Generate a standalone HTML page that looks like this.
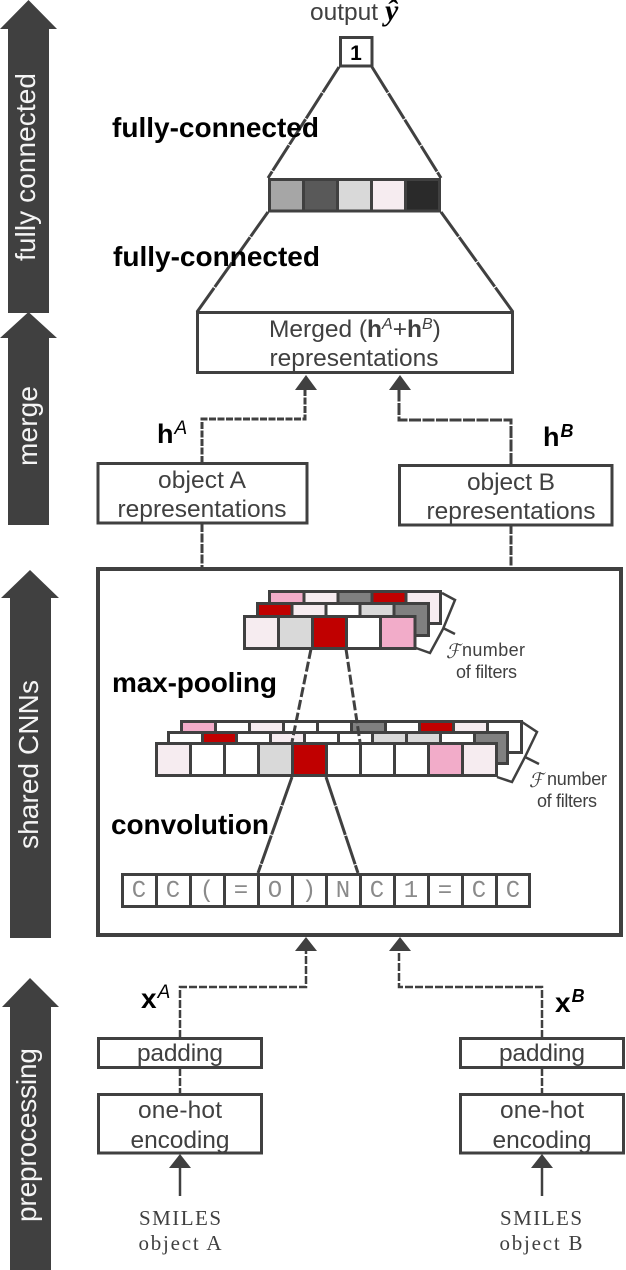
<!DOCTYPE html>
<html><head><meta charset="utf-8">
<style>
html,body{margin:0;padding:0;background:#fff;width:626px;height:1270px;overflow:hidden}
svg{display:block}
text{font-family:"Liberation Sans",sans-serif;fill:#404040}
.b{font-weight:bold;fill:#000}
.s{fill:#f4f4f4;font-size:28px}
.t{font-size:24.5px;text-anchor:middle}
.m{font-family:"Liberation Mono",monospace;font-size:24px;text-anchor:middle;fill:#8a8a8a}
.r{font-family:"Liberation Serif",serif;font-size:21px;text-anchor:middle}
.c{stroke:#404040;stroke-width:3;fill:#fff}
.l{stroke:#404040;stroke-width:2.5;fill:none}
.d{stroke:#404040;stroke-width:3;fill:none;stroke-dasharray:9 1.5}
.n{font-size:18px}
</style></head><body>
<svg width="626" height="1270" viewBox="0 0 626 1270" xmlns="http://www.w3.org/2000/svg">
<!-- big side arrows -->
<g fill="#404040">
<polygon points="28.5,0 57,29 49,29 49,313 8,313 8,29 0,29"/>
<polygon points="28.5,312 57,338 49,338 49,525 8,525 8,338 0,338"/>
<polygon points="30,570 59,598 51,598 51,938 10,938 10,598 1,598"/>
<polygon points="30,978 59,1007 51,1007 51,1270 10,1270 10,1007 2,1007"/>
</g>
<text class="s" transform="translate(35,261) rotate(-90)" textLength="188">fully connected</text>
<text class="s" transform="translate(37,466) rotate(-90)" textLength="80">merge</text>
<text class="s" transform="translate(38,849) rotate(-90)" textLength="169">shared CNNs</text>
<text class="s" transform="translate(36,1222) rotate(-90)" textLength="174">preprocessing</text>

<!-- output -->
<text x="310" y="20" font-size="24.5">output</text>
<text x="385" y="20" font-size="30" style="font-family:'Liberation Serif',serif;font-weight:bold;font-style:italic;fill:#000">ŷ</text>
<rect x="340.5" y="37.5" width="31.5" height="28.5" class="c"/>
<text x="356" y="60" class="b" font-size="21" text-anchor="middle">1</text>

<!-- fan lines -->
<g class="d" style="stroke-dasharray:30 1">
<line x1="339" y1="67" x2="268" y2="178"/>
<line x1="372" y1="67" x2="441" y2="178"/>
<line x1="268" y1="212" x2="197" y2="312"/>
<line x1="441" y1="212" x2="513" y2="312"/>
</g>
<text x="112" y="137" class="b" font-size="28" textLength="207">fully-connected</text>
<text x="113" y="266" class="b" font-size="28" textLength="207">fully-connected</text>

<!-- bar -->
<rect x="269.5" y="179.5" width="34" height="31.5" class="c" style="fill:#a6a6a6"/>
<rect x="303.5" y="179.5" width="34" height="31.5" class="c" style="fill:#595959"/>
<rect x="337.5" y="179.5" width="34" height="31.5" class="c" style="fill:#d9d9d9"/>
<rect x="371.5" y="179.5" width="34" height="31.5" class="c" style="fill:#f6ecf0"/>
<rect x="405.5" y="179.5" width="34" height="31.5" class="c" style="fill:#2a2a2a"/>

<!-- merged -->
<rect x="197.5" y="312.5" width="315" height="60" class="c"/>
<text x="269" y="337" font-size="24.5">Merged (<tspan class="b" style="fill:#404040">h</tspan><tspan font-size="16" dy="-8" font-style="italic">A</tspan><tspan dy="8">+</tspan><tspan class="b" style="fill:#404040">h</tspan><tspan font-size="16" dy="-8" font-style="italic">B</tspan><tspan dy="8">)</tspan></text>
<text x="354" y="366" class="t" textLength="169">representations</text>

<!-- connectors h -->
<polyline class="d" points="202,463 202,419 305,419 305,388" style="stroke-dasharray:7 1.5"/>
<polyline class="d" points="511,465 511,420 399,420 399,388" style="stroke-dasharray:12 1.5"/>
<polygon points="306,375 317,390 295,390" fill="#404040"/>
<polygon points="400,375 411,390 389,390" fill="#404040"/>
<text x="157" y="443" class="b" font-size="27">h<tspan font-size="19" dy="-9" font-style="italic" font-weight="normal" dx="1">A</tspan></text>
<text x="543" y="446" class="b" font-size="27">h<tspan font-size="18" dy="-9" font-style="italic" dx="1">B</tspan></text>

<!-- object boxes -->
<rect x="98" y="463.5" width="209" height="59.5" class="c"/>
<text x="202" y="488" class="t" textLength="88">object A</text>
<text x="202" y="517" class="t" textLength="169">representations</text>
<rect x="399.5" y="465.5" width="212.5" height="59.5" class="c"/>
<text x="511" y="490" class="t" textLength="88">object B</text>
<text x="511" y="519" class="t" textLength="169">representations</text>
<line class="d" x1="202" y1="523" x2="202" y2="569"/>
<line class="d" x1="511" y1="525" x2="511" y2="569"/>

<!-- CNN box -->
<rect x="98" y="569" width="523" height="366" fill="#fff" stroke="#404040" stroke-width="4"/>

<!-- upper filter stack -->
<rect x="269.5" y="591.5" width="34.5" height="32" class="c" style="fill:#f2acc9"/>
<rect x="304" y="591.5" width="34" height="32" class="c"  style="fill:#f6ecf0"/>
<rect x="338" y="591.5" width="34" height="32" class="c" style="fill:#808080"/>
<rect x="372" y="591.5" width="34" height="32" class="c" style="fill:#c00000"/>
<rect x="406" y="591.5" width="34.5" height="32" class="c" style="fill:#f6ecf0"/>

<rect x="257.5" y="603.5" width="34.5" height="32" class="c" style="fill:#c00000"/>
<rect x="292" y="603.5" width="34" height="32" class="c" style="fill:#f6ecf0"/>
<rect x="326" y="603.5" width="34" height="32" class="c"/>
<rect x="360" y="603.5" width="34" height="32" class="c" style="fill:#d9d9d9"/>
<rect x="394" y="603.5" width="34.5" height="32" class="c" style="fill:#808080"/>

<rect x="244.5" y="616.5" width="34" height="32" class="c" style="fill:#f6ecf0"/>
<rect x="278.5" y="616.5" width="34" height="32" class="c" style="fill:#d9d9d9"/>
<rect x="312.5" y="616.5" width="34" height="32" class="c" style="fill:#c00000"/>
<rect x="346.5" y="616.5" width="34" height="32" class="c"/>
<rect x="380.5" y="616.5" width="34.5" height="32" class="c" style="fill:#f2acc9"/>

<polyline class="l" points="442,593 455,600 443,629 430,653 416,648"/>
<line class="l" x1="443" y1="628" x2="455" y2="634"/>
<text x="446" y="658" font-size="20" textLength="14" lengthAdjust="spacingAndGlyphs" style="font-family:'DejaVu Serif',serif;font-style:italic">ℱ</text>
<text x="462" y="656" class="n" textLength="63">number</text>
<text x="456" y="678" class="n" textLength="61">of filters</text>
<text x="112" y="692" class="b" font-size="28" textLength="165">max-pooling</text>

<!-- lower filter stack -->
<rect x="181.5" y="721.5" width="34" height="31" class="c" style="fill:#f2acc9"/>
<rect x="215.5" y="721.5" width="34" height="31" class="c"/>
<rect x="249.5" y="721.5" width="34" height="31" class="c" style="fill:#f6ecf0"/>
<rect x="283.5" y="721.5" width="34" height="31" class="c"/>
<rect x="317.5" y="721.5" width="34" height="31" class="c"/>
<rect x="351.5" y="721.5" width="34" height="31" class="c" style="fill:#808080"/>
<rect x="385.5" y="721.5" width="34" height="31" class="c"/>
<rect x="419.5" y="721.5" width="34" height="31" class="c" style="fill:#c00000"/>
<rect x="453.5" y="721.5" width="34" height="31" class="c" style="fill:#f6ecf0"/>
<rect x="487.5" y="721.5" width="34" height="31" class="c"/>

<rect x="168.5" y="732.5" width="34" height="31" class="c"/>
<rect x="202.5" y="732.5" width="34" height="31" class="c" style="fill:#c00000"/>
<rect x="236.5" y="732.5" width="34" height="31" class="c"/>
<rect x="270.5" y="732.5" width="34" height="31" class="c" style="fill:#f6ecf0"/>
<rect x="304.5" y="732.5" width="34" height="31" class="c"/>
<rect x="338.5" y="732.5" width="34" height="31" class="c"/>
<rect x="372.5" y="732.5" width="34" height="31" class="c" style="fill:#d9d9d9"/>
<rect x="406.5" y="732.5" width="34" height="31" class="c" style="fill:#d9d9d9"/>
<rect x="440.5" y="732.5" width="34" height="31" class="c"/>
<rect x="474.5" y="732.5" width="33" height="31" class="c" style="fill:#808080"/>

<g class="d" style="stroke-dasharray:10 3">
<line x1="311" y1="649" x2="292" y2="742"/>
<line x1="346" y1="649" x2="360" y2="742"/>
</g>

<rect x="156.5" y="743.5" width="34" height="32" class="c" style="fill:#f6ecf0"/>
<rect x="190.5" y="743.5" width="34" height="32" class="c"/>
<rect x="224.5" y="743.5" width="34" height="32" class="c"/>
<rect x="258.5" y="743.5" width="34" height="32" class="c" style="fill:#d9d9d9"/>
<rect x="292.5" y="743.5" width="34" height="32" class="c" style="fill:#c00000"/>
<rect x="326.5" y="743.5" width="34" height="32" class="c"/>
<rect x="360.5" y="743.5" width="34" height="32" class="c"/>
<rect x="394.5" y="743.5" width="34" height="32" class="c"/>
<rect x="428.5" y="743.5" width="34" height="32" class="c" style="fill:#f2acc9"/>
<rect x="462.5" y="743.5" width="34" height="32" class="c" style="fill:#f6ecf0"/>

<polyline class="l" points="522,722 537,732 525,757 512,782 497,777"/>
<line class="l" x1="525" y1="757" x2="539" y2="764"/>
<text x="529" y="787" font-size="20" textLength="14" lengthAdjust="spacingAndGlyphs" style="font-family:'DejaVu Serif',serif;font-style:italic">ℱ</text>
<text x="547" y="785" class="n" textLength="60">number</text>
<text x="537" y="807" class="n" textLength="60">of filters</text>
<text x="111" y="834" class="b" font-size="28" textLength="158">convolution</text>

<g class="d" style="stroke-dasharray:30 1">
<line x1="292" y1="777" x2="258" y2="873"/>
<line x1="326" y1="777" x2="358" y2="873"/>
</g>

<!-- SMILES row -->
<rect x="122.5" y="874.5" width="34" height="32" class="c"/>
<rect x="156.5" y="874.5" width="34" height="32" class="c"/>
<rect x="190.5" y="874.5" width="34" height="32" class="c"/>
<rect x="224.5" y="874.5" width="34" height="32" class="c"/>
<rect x="258.5" y="874.5" width="34" height="32" class="c"/>
<rect x="292.5" y="874.5" width="34" height="32" class="c"/>
<rect x="326.5" y="874.5" width="34" height="32" class="c"/>
<rect x="360.5" y="874.5" width="34" height="32" class="c"/>
<rect x="394.5" y="874.5" width="34" height="32" class="c"/>
<rect x="428.5" y="874.5" width="34" height="32" class="c"/>
<rect x="462.5" y="874.5" width="34" height="32" class="c"/>
<rect x="496.5" y="874.5" width="33" height="32" class="c"/>
<text x="139" y="897" class="m">C</text><text x="173" y="897" class="m">C</text>
<text x="207" y="897" class="m">(</text><text x="241" y="897" class="m">=</text>
<text x="275" y="897" class="m">O</text><text x="309" y="897" class="m">)</text>
<text x="343" y="897" class="m">N</text><text x="377" y="897" class="m">C</text>
<text x="411" y="897" class="m">1</text><text x="445" y="897" class="m">=</text>
<text x="479" y="897" class="m">C</text><text x="513" y="897" class="m">C</text>

<!-- x connectors -->
<polyline class="d" points="180,1038 180,987 306,987 306,950" style="stroke-width:2.5;stroke-dasharray:8 2"/>
<polyline class="d" points="542,1038 542,987 399,987 399,950" style="stroke-width:2.5;stroke-dasharray:8 2"/>
<polygon points="306,937 317,951 295,951" fill="#404040"/>
<polygon points="400,937 411,951 389,951" fill="#404040"/>
<text x="141" y="1008" class="b" font-size="28">x<tspan font-size="19" dy="-10" font-style="italic" font-weight="normal" dx="1">A</tspan></text>
<text x="555" y="1012" class="b" font-size="28">x<tspan font-size="18" dy="-10" font-style="italic" dx="1">B</tspan></text>

<!-- left preprocessing -->
<rect x="98.5" y="1038.5" width="163" height="29" class="c"/>
<text x="180" y="1061" class="t" textLength="86">padding</text>
<line class="d" x1="180" y1="1068" x2="180" y2="1094" style="stroke-width:2.5;stroke-dasharray:8 2"/>
<rect x="98.5" y="1094.5" width="163" height="58.5" class="c"/>
<text x="180" y="1118" class="t" textLength="84">one-hot</text>
<text x="180" y="1148" class="t" textLength="99">encoding</text>
<polygon points="180,1154 191,1168 169,1168" fill="#404040"/>
<line class="l" x1="180" y1="1166" x2="180" y2="1196"/>
<text x="180" y="1225" class="r" textLength="82">SMILES</text>
<text x="180" y="1250" class="r" textLength="83">object A</text>

<!-- right preprocessing -->
<rect x="460.5" y="1038.5" width="163" height="29" class="c"/>
<text x="542" y="1061" class="t" textLength="86">padding</text>
<line class="d" x1="542" y1="1068" x2="542" y2="1094" style="stroke-width:2.5;stroke-dasharray:8 2"/>
<rect x="460.5" y="1094.5" width="163" height="58.5" class="c"/>
<text x="542" y="1118" class="t" textLength="84">one-hot</text>
<text x="542" y="1148" class="t" textLength="99">encoding</text>
<polygon points="542,1154 553,1168 531,1168" fill="#404040"/>
<line class="l" x1="542" y1="1166" x2="542" y2="1196"/>
<text x="541" y="1225" class="r" textLength="82">SMILES</text>
<text x="541" y="1250" class="r" textLength="83">object B</text>
</svg>
</body></html>
